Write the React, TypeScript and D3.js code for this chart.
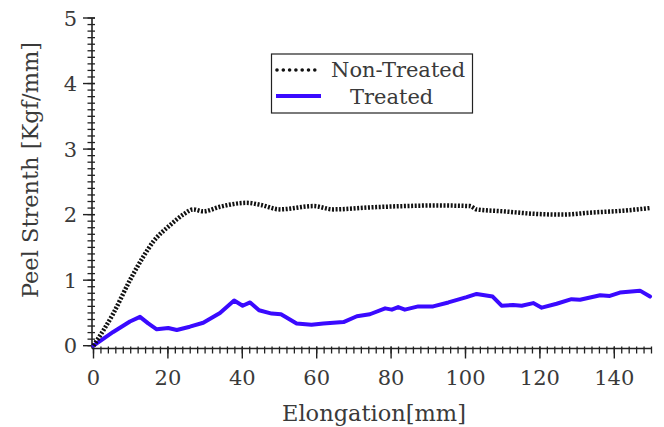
import React from "react";
import * as d3 from "d3";

const nonTreatedX = [0, 5.3, 9.8, 13.4, 16.1, 20.6, 24.1, 26.8, 29.5, 34, 41.2, 44.8, 50.1, 59.1, 64.5, 74.3, 83.3, 92.3, 101.2, 103, 110.2, 119.1, 126.3, 133.5, 142.4, 149.6];
const nonTreatedY = [0, 0.49, 1.0, 1.36, 1.59, 1.84, 2.0, 2.08, 2.05, 2.12, 2.18, 2.15, 2.08, 2.13, 2.08, 2.11, 2.13, 2.14, 2.13, 2.08, 2.05, 2.01, 2.0, 2.03, 2.06, 2.1];

const treatedX = [0, 5.3, 9.8, 12.5, 14.7, 17, 20.1, 22.4, 25.9, 29.5, 34, 37.8, 40.1, 42.1, 44.5, 47.9, 50.4, 54.6, 58.6, 61.8, 67.2, 70.8, 74.3, 78.4, 80.2, 81.9, 83.7, 87.3, 91.3, 95.4, 100.3, 103, 107.3, 109.7, 112.8, 115.1, 118.2, 120.5, 124.5, 128.5, 130.8, 136.2, 138.8, 141.5, 146.9, 149.6];
const treatedY = [0, 0.21, 0.37, 0.44, 0.34, 0.25, 0.27, 0.24, 0.29, 0.35, 0.5, 0.69, 0.61, 0.66, 0.54, 0.49, 0.48, 0.34, 0.32, 0.34, 0.36, 0.45, 0.48, 0.57, 0.55, 0.59, 0.55, 0.6, 0.6, 0.66, 0.74, 0.79, 0.75, 0.61, 0.62, 0.61, 0.65, 0.58, 0.64, 0.71, 0.7, 0.77, 0.76, 0.81, 0.84, 0.75];

const xTicks = [0, 20, 40, 60, 80, 100, 120, 140];
const yTicks = [0, 1, 2, 3, 4, 5];
const seriesNames = ["Non-Treated", "Treated"];

const FONT = "'DejaVu Serif', serif";
const TEXT = "#3a3a3a";

export default function App() {
  const x = d3.scaleLinear().domain([0, 150]).range([93.5, 651.5]);
  const y = d3.scaleLinear().domain([0, 5]).range([345.7, 18]);
  const axisY = 348.5;
  const axisX = 92;

  const line = d3
    .line<[number, number]>()
    .x((d) => x(d[0]))
    .y((d) => y(d[1]))
    .curve(d3.curveMonotoneX);

  const ntData = nonTreatedX.map((v, i) => [v, nonTreatedY[i]] as [number, number]);
  const tData = treatedX.map((v, i) => [v, treatedY[i]] as [number, number]);
  const lin = line.curve(d3.curveLinear);

  const xMinor = d3.range(0, 151, 2);
  const yMinor = d3.range(0, 51, 1).map((v) => v / 10);

  return (
    <svg width={664} height={427} style={{ position: "absolute", left: 0, top: 0, background: "#fff" }}>
      {/* Y axis */}
      <line x1={axisX} x2={axisX} y1={y(5)} y2={axisY} stroke="#222" strokeWidth={1.6} />
      {yMinor.map((v) => (
        <line key={"ym" + v} x1={axisX - 4.5} x2={axisX + 3} y1={y(v)} y2={y(v)} stroke="#222" strokeWidth={1.3} />
      ))}
      {yTicks.map((v) => (
        <g key={"yt" + v}>
          <line x1={axisX - 9} x2={axisX + 3} y1={y(v)} y2={y(v)} stroke="#222" strokeWidth={1.4} />
          <text x={77} y={y(v)} dy="0.36em" textAnchor="end" fontFamily={FONT} fontSize={21} fill={TEXT}>
            {v}
          </text>
        </g>
      ))}
      {/* X axis */}
      <line x1={axisX} x2={x(150)} y1={axisY} y2={axisY} stroke="#222" strokeWidth={1.6} />
      {xMinor.map((v) => (
        <line key={"xm" + v} x1={x(v)} x2={x(v)} y1={axisY - 2} y2={axisY + 5} stroke="#222" strokeWidth={1.3} />
      ))}
      {xTicks.map((v) => (
        <g key={"xt" + v}>
          <line x1={x(v)} x2={x(v)} y1={axisY - 2} y2={axisY + 10} stroke="#222" strokeWidth={1.4} />
          <text x={x(v)} y={385} textAnchor="middle" fontFamily={FONT} fontSize={21} fill={TEXT}>
            {v}
          </text>
        </g>
      ))}
      <text x={374} y={421} textAnchor="middle" fontFamily={FONT} fontSize={22.5} fill={TEXT}>
        Elongation[mm]
      </text>
      <text
        transform={`translate(38,170) rotate(-90)`}
        textAnchor="middle"
        fontFamily={FONT}
        fontSize={22.5}
        fill={TEXT}
      >
        Peel Strenth [Kgf/mm]
      </text>

      {/* Series */}
      <path d={lin(tData) || ""} fill="none" stroke="#3a0aff" strokeWidth={4} strokeLinejoin="round" strokeLinecap="round" />
      <path d={d3.line<[number, number]>().x((d) => x(d[0])).y((d) => y(d[1])).curve(d3.curveMonotoneX)(ntData) || ""} fill="none" stroke="#111" strokeWidth={4.5} strokeDasharray="2 1.6" />

      {/* Legend */}
      <rect x={271.5} y={54} width={201} height={59} fill="#fff" stroke="#222" strokeWidth={1.2} />
      <line x1={277} x2={321} y1={70} y2={70} stroke="#111" strokeWidth={3.6} strokeLinecap="round" strokeDasharray="0 6.3" />
      <text x={331} y={77} fontFamily={FONT} fontSize={21} fill={TEXT}>
        {seriesNames[0]}
      </text>
      <line x1={276} x2={321} y1={96} y2={96} stroke="#3a0aff" strokeWidth={4} />
      <text x={350} y={103.5} fontFamily={FONT} fontSize={21} fill={TEXT}>
        {seriesNames[1]}
      </text>
    </svg>
  );
}
